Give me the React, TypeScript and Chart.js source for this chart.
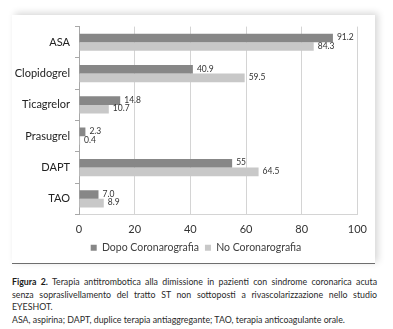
import React, { useEffect, useRef } from "react";
import { Chart, registerables } from "chart.js";

Chart.register(...registerables);

const categories = ["ASA", "Clopidogrel", "Ticagrelor", "Prasugrel", "DAPT", "TAO"];
const dopoValues = [91.2, 40.9, 14.8, 2.3, 55, 7.0];
const noValues = [84.3, 59.5, 10.7, 0.4, 64.5, 8.9];
const dopoLabels = ["91.2", "40.9", "14.8", "2.3", "55", "7.0"];
const noLabels = ["84.3", "59.5", "10.7", "0.4", "64.5", "8.9"];
const seriesNames = ["Dopo Coronarografia", "No Coronarografia"];
const xTicks = [0, 20, 40, 60, 80, 100];

const FONT = "Lato, 'Open Sans', sans-serif";

const valueLabelPlugin = {
  id: "valueLabels",
  afterDatasetsDraw(chart: any) {
    const ctx = chart.ctx;
    const labelSets = [dopoLabels, noLabels];
    ctx.save();
    ctx.font = `8.5px ${FONT}`;
    ctx.fillStyle = "#333";
    ctx.textAlign = "left";
    ctx.textBaseline = "middle";
    chart.data.datasets.forEach((_ds: any, di: number) => {
      const meta = chart.getDatasetMeta(di);
      meta.data.forEach((bar: any, i: number) => {
        ctx.fillText(labelSets[di][i], bar.x + 4, bar.y - 0.5);
      });
    });
    ctx.restore();
  },
};

const legendShiftPlugin = {
  id: "legendShift",
  afterLayout(chart: any) {
    if (chart.legend) {
      chart.legend.left += 5;
      chart.legend.right += 5;
    }
  },
};

function ChartPanel() {
  const ref = useRef<HTMLCanvasElement>(null);
  useEffect(() => {
    if (!ref.current) return;
    const chart = new Chart(ref.current, {
      type: "bar",
      data: {
        labels: categories,
        datasets: [
          {
            label: seriesNames[0],
            data: dopoValues,
            backgroundColor: "#878787",
            borderWidth: 0,
            barPercentage: 1.0,
            categoryPercentage: 0.55,
          },
          {
            label: seriesNames[1],
            data: noValues,
            backgroundColor: "#c8c8c8",
            borderWidth: 0,
            barPercentage: 1.0,
            categoryPercentage: 0.55,
          },
        ],
      },
      options: {
        indexAxis: "y",
        animation: false,
        responsive: false,
        maintainAspectRatio: false,
        layout: { padding: { top: 9, right: 5, left: 0, bottom: 0 } },
        scales: {
          x: {
            min: 0,
            max: 100,
            afterBuildTicks: (s: any) => {
              s.ticks = xTicks.map((v) => ({ value: v }));
            },
            afterFit: (s: any) => {
              s.height = 22;
            },
            grid: { color: "#d4d4d4", drawTicks: false, lineWidth: 1 },
            border: { display: true, color: "#d4d4d4" },
            ticks: {
              padding: 8,
              color: "#333",
              font: { family: FONT, size: 11 },
            },
          },
          y: {
            afterFit: (s: any) => {
              s.width = 67;
            },
            grid: {
              offset: true,
              drawOnChartArea: false,
              drawTicks: true,
              tickLength: 4,
              color: "#a8a8a8",
            },
            border: { display: true, color: "#a8a8a8" },
            ticks: {
              padding: 5,
              color: "#222",
              font: { family: FONT, size: 11 },
            },
          },
        },
        plugins: {
          legend: {
            position: "bottom",
            labels: {
              boxWidth: 6,
              boxHeight: 6,
              padding: 6,
              color: "#404040",
              font: { family: FONT, size: 10.5 },
            },
          },
          tooltip: { enabled: false },
        },
      },
      plugins: [valueLabelPlugin, legendShiftPlugin],
    });
    return () => chart.destroy();
  }, []);
  return <canvas ref={ref} width={363} height={248} style={{ display: "block" }} />;
}

const lineStyle: React.CSSProperties = {
  height: 12.5,
  lineHeight: "12.5px",
  whiteSpace: "nowrap",
  overflow: "visible",
};

export default function App() {
  return (
    <div
      style={{
        position: "absolute",
        left: 0,
        top: 0,
        width: 393,
        height: 329,
        background: "#fff",
        overflow: "hidden",
        fontFamily: FONT,
      }}
    >
      <div
        style={{
          position: "absolute",
          left: 12,
          top: 15,
          width: 363,
          height: 248,
          background: "#fff",
          boxShadow: "3px -2px 7px rgba(0,0,0,0.16)",
          borderBottom: "1px solid #6e6e6e",
        }}
      >
        <ChartPanel />
      </div>
      <div
        style={{
          position: "absolute",
          left: 12,
          top: 276,
          width: 365,
          fontSize: 8.8,
          color: "#2a2a2a",
        }}
      >
        <div style={{ ...lineStyle, textAlign: "justify", textAlignLast: "justify" }}>
          <b style={{ color: "#1a1a1a" }}>Figura 2.</b> Terapia antitrombotica alla dimissione in pazienti con sindrome coronarica acuta
        </div>
        <div style={{ ...lineStyle, textAlign: "justify", textAlignLast: "justify" }}>
          senza sopraslivellamento del tratto ST non sottoposti a rivascolarizzazione nello studio
        </div>
        <div style={lineStyle}>EYESHOT.</div>
        <div style={lineStyle}>
          ASA, aspirina; DAPT, duplice terapia antiaggregante; TAO, terapia anticoagulante orale.
        </div>
      </div>
    </div>
  );
}
